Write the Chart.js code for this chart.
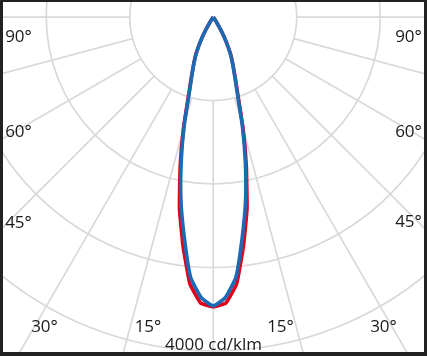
<!DOCTYPE html>
<html>
<head>
<meta charset="utf-8">
<script src="https://cdn.jsdelivr.net/npm/chart.js@4/dist/chart.umd.min.js"></script>
<style>
html,body{margin:0;padding:0;background:#fff;overflow:hidden}
#wrap{width:427px;height:356px;position:relative}
</style>
</head>
<body>
<div id="wrap"><canvas id="c" width="427" height="356"></canvas></div>
<script>
// ---- data (cd/klm), gamma angles in degrees from nadir ----
const gammaAngles = [0, 2.5, 5, 7.5, 10, 12.5, 15, 17.5, 20, 22.5, 25, 27.5, 30, 32.5, 35];
const planeC0C180 = [3470, 3430, 3210, 2770, 2330, 1830, 1380, 985, 765, 615, 490, 340, 200, 60, 0];   // red
const planeC90C270 = [3460, 3360, 3126, 2660, 2230, 1775, 1345, 960, 750, 605, 480, 335, 195, 55, 0]; // blue
const ringValues = [1000, 2000, 3000, 4000];
const rayAngles = [-90, -75, -60, -45, -30, -15, 0, 15, 30, 45, 60, 75, 90];
const angleLabels = ['90°', '60°', '45°', '30°', '15°'];
const unitLabel = '4000 cd/klm';

function toXY(vals) {
  const pts = [];
  for (let i = gammaAngles.length - 1; i >= 0; i--) {
    const t = -gammaAngles[i] * Math.PI / 180;
    pts.push({x: vals[i] * Math.sin(t), y: vals[i] * Math.cos(t)});
  }
  for (let i = 1; i < gammaAngles.length; i++) {
    const t = gammaAngles[i] * Math.PI / 180;
    pts.push({x: vals[i] * Math.sin(t), y: vals[i] * Math.cos(t)});
  }
  return pts;
}

const polarGrid = {
  id: 'polarGrid',
  beforeDatasetsDraw(chart) {
    const {ctx, scales: {x, y}} = chart;
    const cx = x.getPixelForValue(0), cy = y.getPixelForValue(0);
    const rad = v => Math.abs(x.getPixelForValue(v) - cx);
    ctx.save();
    ctx.strokeStyle = '#d9d9d9';
    ctx.lineWidth = 1.7;
    ringValues.forEach(v => {
      ctx.beginPath();
      ctx.arc(cx, cy, rad(v), 0, Math.PI * 2);
      ctx.stroke();
    });
    const r0 = rad(ringValues[0]), r1 = rad(9000);
    rayAngles.forEach(a => {
      const t = a * Math.PI / 180;
      ctx.beginPath();
      ctx.moveTo(cx + r0 * Math.sin(t), cy + r0 * Math.cos(t));
      ctx.lineTo(cx + r1 * Math.sin(t), cy + r1 * Math.cos(t));
      ctx.stroke();
    });
    ctx.restore();
  },
  afterDraw(chart) {
    const {ctx, width, height} = chart;
    ctx.save();
    ctx.fillStyle = '#1a1a1a';
    ctx.font = '17px "Open Sans", sans-serif';
    ctx.textAlign = 'center';
    ctx.textBaseline = 'alphabetic';
    const leftPos = [[18.5, 42], [18.5, 137], [18.5, 228], [44.5, 332], [148, 332]];
    const rightPos = [[408.5, 42], [408.5, 137], [408.5, 227], [383.5, 332], [280.5, 332]];
    angleLabels.forEach((s, i) => {
      ctx.fillText(s, leftPos[i][0], leftPos[i][1]);
      ctx.fillText(s, rightPos[i][0], rightPos[i][1]);
    });
    ctx.fillText(unitLabel, 213.5, 350);
    // frame
    ctx.fillStyle = '#222222';
    ctx.fillRect(0, 0, width, 2);
    ctx.fillRect(0, 0, 3, height);
    ctx.fillRect(width - 3, 0, 3, height);
    ctx.fillRect(0, height - 4, width, 4);
    ctx.restore();
  }
};

new Chart(document.getElementById('c'), {
  type: 'scatter',
  data: {
    datasets: [
      {label: 'C90-C270', data: toXY(planeC90C270), showLine: true, borderColor: '#1b6bb4', borderWidth: 3.6,
       pointRadius: 0, tension: 0.15, borderJoinStyle: 'round', fill: false},
      {label: 'C0-C180', data: toXY(planeC0C180), showLine: true, borderColor: '#e2001a', borderWidth: 3.6,
       pointRadius: 0, tension: 0.1, borderJoinStyle: 'round', fill: false}
    ]
  },
  options: {
    responsive: false,
    animation: false,
    devicePixelRatio: 1,
    layout: {padding: 0},
    plugins: {legend: {display: false}, tooltip: {enabled: false}},
    scales: {
      x: {type: 'linear', display: false, min: -2554, max: 2560},
      y: {type: 'linear', display: false, reverse: true, min: -204, max: 4060}
    }
  },
  plugins: [polarGrid]
});
</script>
</body>
</html>
